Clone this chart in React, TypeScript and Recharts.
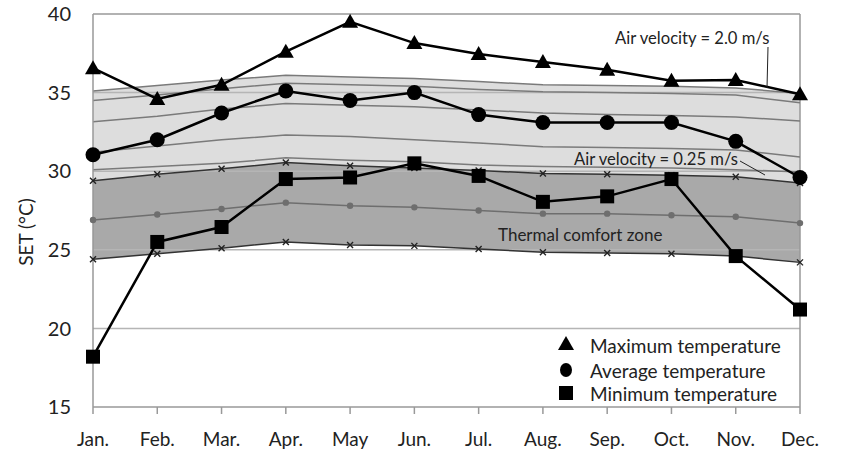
import React from 'react';
import { ComposedChart, Line, Area, XAxis, YAxis, ReferenceLine } from 'recharts';

const months = ['Jan.', 'Feb.', 'Mar.', 'Apr.', 'May', 'Jun.', 'Jul.', 'Aug.', 'Sep.', 'Oct.', 'Nov.', 'Dec.'];
const yTicks = [15, 20, 25, 30, 35, 40];
const gridValues = [20, 25, 30, 35];

const maxTemp = [36.55, 34.6, 35.5, 37.6, 39.5, 38.15, 37.45, 36.95, 36.45, 35.75, 35.8, 34.9];
const avgTemp = [31.05, 32.0, 33.7, 35.1, 34.5, 35.0, 33.6, 33.1, 33.1, 33.1, 31.9, 29.6];
const minTemp = [18.2, 25.5, 26.45, 29.5, 29.6, 30.5, 29.7, 28.05, 28.4, 29.5, 24.6, 21.2];

// comfort-zone boundary lines (air velocity 2.0 m/s band, upper to lower)
const lineA = [35.1, 35.45, 35.8, 36.1, 36.0, 35.9, 35.7, 35.5, 35.45, 35.4, 35.3, 34.95];
const lineC = [34.5, 34.85, 35.25, 35.6, 35.5, 35.4, 35.2, 35.05, 35.0, 34.95, 34.85, 34.35];
const lineD = [33.15, 33.5, 33.95, 34.3, 34.2, 34.1, 33.9, 33.7, 33.6, 33.55, 33.45, 33.2];
const lineE = [31.2, 31.6, 32.0, 32.3, 32.2, 32.0, 31.8, 31.55, 31.5, 31.45, 31.35, 30.9];
const lineF = [30.1, 30.3, 30.5, 30.85, 30.7, 30.6, 30.4, 30.3, 30.25, 30.2, 30.1, 29.95];
// air velocity 0.25 m/s comfort zone
const upper025 = [29.4, 29.8, 30.15, 30.55, 30.35, 30.2, 30.05, 29.85, 29.8, 29.75, 29.65, 29.25];
const mid025 = [26.9, 27.25, 27.6, 28.0, 27.8, 27.7, 27.5, 27.3, 27.3, 27.2, 27.1, 26.7];
const lower025 = [24.4, 24.75, 25.1, 25.5, 25.3, 25.25, 25.05, 24.85, 24.8, 24.75, 24.6, 24.2];

const data = months.map((m, i) => ({
  month: m,
  max: maxTemp[i],
  avg: avgTemp[i],
  min: minTemp[i],
  a: lineA[i],
  c: lineC[i],
  d: lineD[i],
  e: lineE[i],
  f: lineF[i],
  g: upper025[i],
  h: mid025[i],
  l: lower025[i],
  light: [upper025[i], lineA[i]],
  dark: [lower025[i], upper025[i]],
}));

const FONT = 'Lato, "Liberation Sans", sans-serif';

const Tri = (p: any) => {
  const { cx, cy, index } = p;
  if (cx == null || cy == null) return <g key={'t' + index} />;
  return <polygon key={'t' + index} points={`${cx},${cy - 8} ${cx - 8},${cy + 6} ${cx + 8},${cy + 6}`} fill="#000" />;
};
const Circ = (p: any) => {
  const { cx, cy, index } = p;
  if (cx == null || cy == null) return <g key={'c' + index} />;
  return <circle key={'c' + index} cx={cx} cy={cy} r={7.5} fill="#000" />;
};
const Sq = (p: any) => {
  const { cx, cy, index } = p;
  if (cx == null || cy == null) return <g key={'s' + index} />;
  return <rect key={'s' + index} x={cx - 7} y={cy - 7} width={14} height={14} fill="#000" />;
};
const XMark = (p: any) => {
  const { cx, cy, index } = p;
  if (cx == null || cy == null) return <g key={'x' + index} />;
  return (
    <g key={'x' + index} stroke="#222" strokeWidth={1.4}>
      <line x1={cx - 3} y1={cy - 3} x2={cx + 3} y2={cy + 3} />
      <line x1={cx - 3} y1={cy + 3} x2={cx + 3} y2={cy - 3} />
    </g>
  );
};
const GDot = (p: any) => {
  const { cx, cy, index } = p;
  if (cx == null || cy == null) return <g key={'g' + index} />;
  return <circle key={'g' + index} cx={cx} cy={cy} r={3.2} fill="#6e6e6e" />;
};

export default function App() {
  const bandLine = { type: 'linear' as const, stroke: '#7a7a7a', strokeWidth: 1.5, dot: false, activeDot: false, isAnimationActive: false };
  return (
    <div style={{ position: 'absolute', left: 0, top: 0, width: 842, height: 452, background: '#fff', fontFamily: FONT }}>
      <ComposedChart width={842} height={452} data={data} margin={{ top: 14, right: 42, bottom: 0, left: 0 }}>
        <XAxis
          dataKey="month"
          scale="point"
          padding={{ left: 0, right: 0 }}
          height={45}
          axisLine={{ stroke: '#999', strokeWidth: 1.5 }}
          tickLine={{ stroke: '#999', strokeWidth: 1.5 }}
          tickSize={7}
          tickMargin={19}
          tick={{ fontSize: 19, fill: '#222', fontFamily: FONT }}
          interval={0}
        />
        <YAxis
          domain={[15, 40]}
          ticks={yTicks}
          width={93}
          axisLine={{ stroke: '#999', strokeWidth: 1.5 }}
          tickLine={false}
          tickMargin={16}
          tick={{ fontSize: 20, fill: '#222', fontFamily: FONT }}
          allowDataOverflow
        />
        <Area dataKey="light" type="linear" fill="#dddddd" fillOpacity={1} stroke="none" isAnimationActive={false} activeDot={false} />
        <Area dataKey="dark" type="linear" fill="#a9a9a9" fillOpacity={1} stroke="none" isAnimationActive={false} activeDot={false} />
        {gridValues.map((v) => (
          <ReferenceLine key={v} y={v} stroke="#b5b5b5" strokeWidth={1.5} />
        ))}
        <ReferenceLine y={40} stroke="#999" strokeWidth={1.5} />
        <ReferenceLine x="Dec." stroke="#999" strokeWidth={1.5} />
        <Line dataKey="a" {...bandLine} />
        <Line dataKey="c" {...bandLine} />
        <Line dataKey="d" {...bandLine} />
        <Line dataKey="e" {...bandLine} />
        <Line dataKey="f" {...bandLine} />
        <Line dataKey="g" type="linear" stroke="#333" strokeWidth={1.5} dot={XMark} activeDot={false} isAnimationActive={false} />
        <Line dataKey="h" type="linear" stroke="#6e6e6e" strokeWidth={1.5} dot={GDot} activeDot={false} isAnimationActive={false} />
        <Line dataKey="l" type="linear" stroke="#333" strokeWidth={1.5} dot={XMark} activeDot={false} isAnimationActive={false} />
        <Line dataKey="max" type="linear" stroke="#000" strokeWidth={2.5} dot={Tri} activeDot={false} isAnimationActive={false} />
        <Line dataKey="avg" type="linear" stroke="#000" strokeWidth={2.5} dot={Circ} activeDot={false} isAnimationActive={false} />
        <Line dataKey="min" type="linear" stroke="#000" strokeWidth={2.5} dot={Sq} activeDot={false} isAnimationActive={false} />
      </ComposedChart>
      <svg width={842} height={452} style={{ position: 'absolute', left: 0, top: 0, pointerEvents: 'none' }}>
        <text x={25} y={232} transform="rotate(-90 25 232)" textAnchor="middle" dominantBaseline="central" fontSize={19} fill="#222" fontFamily={FONT}>SET (°C)</text>
        <text x={615} y={38} dominantBaseline="central" fontSize={16.6} fill="#222" fontFamily={FONT}>Air velocity = 2.0 m/s</text>
        <line x1={768} y1={47} x2={767} y2={88} stroke="#222" strokeWidth={1} />
        <text x={574} y={159} dominantBaseline="central" fontSize={16.6} fill="#222" fontFamily={FONT}>Air velocity = 0.25 m/s</text>
        <line x1={740} y1={161} x2={765} y2={175} stroke="#222" strokeWidth={1} />
        <text x={498} y={234} dominantBaseline="central" fontSize={17} fill="#222" fontFamily={FONT}>Thermal comfort zone</text>
        <polygon points="566,336 558,350 574,350" fill="#000" />
        <text x={590} y={345} dominantBaseline="central" fontSize={19} fill="#222" fontFamily={FONT}>Maximum temperature</text>
        <ellipse cx={566} cy={370} rx={6} ry={7} fill="#000" />
        <text x={590} y={370} dominantBaseline="central" fontSize={19} fill="#222" fontFamily={FONT}>Average temperature</text>
        <rect x={559} y={386} width={14} height={14} fill="#000" />
        <text x={590} y={393} dominantBaseline="central" fontSize={19} fill="#222" fontFamily={FONT}>Minimum temperature</text>
      </svg>
    </div>
  );
}
